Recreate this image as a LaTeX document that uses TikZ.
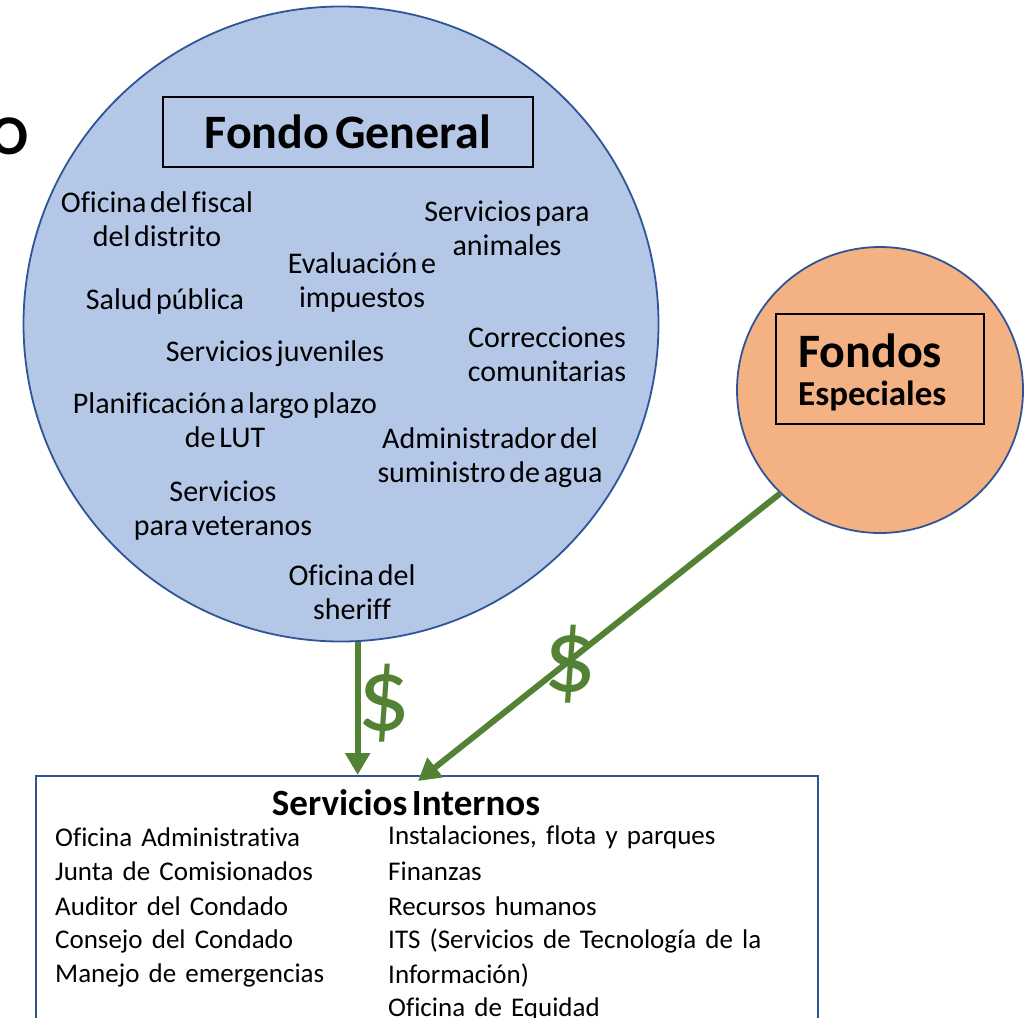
\documentclass[tikz,border=0pt]{standalone}
\usepackage{fontspec}
\setmainfont{Carlito}[WordSpace=0.55, Ligatures=NoCommon]
\newfontfamily\listfont{Carlito}[WordSpace=1.5, Ligatures=NoCommon]
\usepackage{xcolor}
\usetikzlibrary{shapes,arrows.meta,positioning}

\definecolor{fondoblue}{HTML}{B4C7E7}
\definecolor{fondoorange}{HTML}{F4B183}
\definecolor{edgeblue}{HTML}{2F5597}
\definecolor{moneygreen}{HTML}{548235}

\begin{document}
\begin{tikzpicture}[x=1pt, y=-1pt,
    fund/.style={circle, draw=edgeblue, line width=1.8pt, inner sep=0pt},
    titlebox/.style={rectangle, draw=black, line width=1.5pt},
    dept/.style={align=center, inner sep=0pt, font=\fontsize{30}{34}\selectfont},
    item/.style={anchor=west, inner sep=0pt, font=\listfont\fontsize{27}{30}\selectfont},
    flow/.style={draw=moneygreen, line width=6pt, -{Triangle[width=24pt,length=22pt]}},
    money/.style={text=moneygreen, inner sep=0pt, font=\fontsize{105}{110}\selectfont}]
    \useasboundingbox (0,0) rectangle (1030,1017);

    % Funds
    \node [fund, fill=fondoblue, minimum size=635pt] (general) at (341,324) {};
    \node [fund, fill=fondoorange, minimum size=286pt] (especiales) at (880,390) {};
    \node [anchor=east, inner sep=0pt, font=\bfseries\fontsize{56}{60}\selectfont] (cutword) at (29,136) {O};

    \node [titlebox, minimum width=370pt, minimum height=70pt, font=\bfseries\fontsize{48}{50}\selectfont] (generaltitle) at (348,132) {Fondo General};
    \node [titlebox, minimum width=208pt, minimum height=110pt] (especialestitle) at (880,369) {};
    \node [anchor=base west, inner sep=0pt, font=\bfseries\fontsize{48}{50}\selectfont] (fondos) at (798,367) {Fondos};
    \node [anchor=base west, inner sep=0pt, font=\bfseries\fontsize{35}{38}\selectfont] (especialestext) at (798,405) {Especiales};

    % Departments of the general fund
    \node [dept] (fiscal) at (157,219) {Oficina del fiscal\\del distrito};
    \node [dept] (animales) at (507,228) {Servicios para\\animales};
    \node [dept] (evaluacion) at (362,282) {Evaluación e\\impuestos};
    \node [dept] (salud) at (165,301) {Salud pública};
    \node [dept] (correcciones) at (547,354) {Correcciones\\comunitarias};
    \node [dept] (juveniles) at (275,354) {Servicios juveniles};
    \node [dept] (planificacion) at (225,420) {Planificación a largo plazo\\de LUT};
    \node [dept] (agua) at (490,458) {Administrador del\\suministro de agua};
    \node [dept] (veteranos) at (223,511) {Servicios\\para veteranos};
    \node [dept] (sheriff) at (352,592) {Oficina del\\sheriff};

    % Internal services
    \node [rectangle, draw=edgeblue, line width=1.8pt, anchor=north west, minimum width=782pt, minimum height=280pt] (internos) at (35,775) {};
    \node [inner sep=0pt, font=\bfseries\fontsize{37}{38}\selectfont] (internostitle) at (406,803) {Servicios Internos};
    \node [item] (oficina) at (55,837) {Oficina Administrativa};
    \node [item] (junta) at (55,871) {Junta de Comisionados};
    \node [item] (auditor) at (55,906) {Auditor del Condado};
    \node [item] (consejo) at (55,941) {Consejo del Condado};
    \node [item] (manejo) at (55,975) {Manejo de emergencias};
    \node [item] (instalaciones) at (388,837) {Instalaciones, flota y parques};
    \node [item] (finanzas) at (388,871) {Finanzas};
    \node [item] (recursos) at (388,906) {Recursos humanos};
    \node [item] (its) at (388,941) {ITS (Servicios de Tecnología de la};
    \node [item] (informacion) at (388,975) {Información)};
    \node [item] (equidad) at (388,1009) {Oficina de Equidad};

    % Money flows
    \coordinate (generalin) at (418,781);
    \draw [flow] (general.-87) -- (general.-87 |- internos.north);
    \draw [flow] (especiales.226) -- (generalin);
    \node [money] (dollargeneral) at (384,703) {\$};
    \node [money] (dollarespeciales) at (570,664) {\$};
\end{tikzpicture}
\end{document}
